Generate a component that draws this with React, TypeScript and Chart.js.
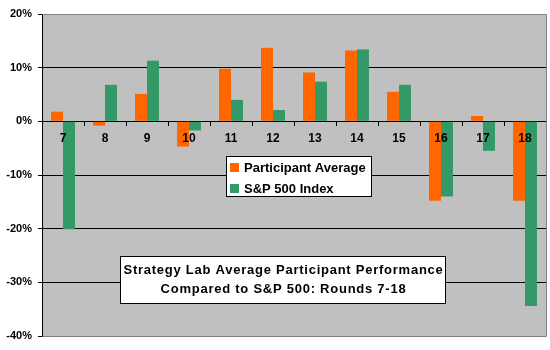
import React, { useEffect, useRef } from "react";
import { Chart, registerables } from "chart.js";

Chart.register(...registerables);

const rounds = ["7", "8", "9", "10", "11", "12", "13", "14", "15", "16", "17", "18"];
const participantAverage = [1.8, -0.8, 5.1, -4.7, 9.8, 13.7, 9.1, 13.2, 5.5, -14.8, 1.0, -14.8];
const sp500Index = [-20.1, 6.8, 11.3, -1.7, 4.0, 2.1, 7.4, 13.4, 6.8, -14.0, -5.5, -34.4];
const seriesNames = ["Participant Average", "S&P 500 Index"];
const seriesColors = ["#FF6600", "#339966"];
const titleLines = ["Strategy Lab Average Participant Performance", "Compared to S&P 500: Rounds 7-18"];

const FONT = "'Liberation Sans', Arial, sans-serif";

const decorPlugin = {
  id: "decor",
  beforeDraw(chart: any) {
    const { ctx, chartArea } = chart;
    ctx.save();
    ctx.fillStyle = "#C0C0C0";
    ctx.fillRect(chartArea.left, chartArea.top, chartArea.right - chartArea.left, chartArea.bottom - chartArea.top);
    ctx.restore();
  },
  afterDraw(chart: any) {
    const { ctx, chartArea } = chart;
    ctx.save();
    // plot border (top, right, bottom gray)
    ctx.strokeStyle = "#808080";
    ctx.lineWidth = 1;
    ctx.beginPath();
    ctx.moveTo(Math.round(chartArea.left) + 0.5, Math.round(chartArea.top) + 0.5);
    ctx.lineTo(Math.round(chartArea.right) + 0.5, Math.round(chartArea.top) + 0.5);
    ctx.lineTo(Math.round(chartArea.right) + 0.5, Math.round(chartArea.bottom) + 0.5);
    ctx.lineTo(Math.round(chartArea.left) + 0.5, Math.round(chartArea.bottom) + 0.5);
    ctx.stroke();

    // legend box
    const lx = 226.5, ly = 156.5, lw = 145, lh = 40;
    ctx.fillStyle = "#FFFFFF";
    ctx.fillRect(lx, ly, lw, lh);
    ctx.strokeStyle = "#000000";
    ctx.strokeRect(lx, ly, lw, lh);
    ctx.font = `bold 13px ${FONT}`;
    ctx.textBaseline = "middle";
    ctx.textAlign = "left";
    const rowY = [167.5, 188.5];
    seriesNames.forEach((name, i) => {
      ctx.fillStyle = seriesColors[i];
      ctx.fillRect(230, rowY[i] - 4.5, 9, 9);
      ctx.fillStyle = "#000000";
      ctx.fillText(name, 244, rowY[i] + 0.5);
    });

    // title box
    const tx = 120.5, ty = 256.5, tw = 325, th = 47;
    ctx.fillStyle = "#FFFFFF";
    ctx.fillRect(tx, ty, tw, th);
    ctx.strokeStyle = "#000000";
    ctx.strokeRect(tx, ty, tw, th);
    ctx.fillStyle = "#000000";
    ctx.font = `bold 13px ${FONT}`;
    (ctx as any).letterSpacing = "0.75px";
    ctx.textAlign = "center";
    titleLines.forEach((line, i) => {
      ctx.fillText(line, tx + tw / 2 + 0.5, 270 + i * 19);
    });
    ctx.restore();
  },
};

export default function App() {
  const canvasRef = useRef<HTMLCanvasElement | null>(null);

  useEffect(() => {
    document.body.style.margin = "0";
    const canvas = canvasRef.current;
    if (!canvas) return;
    const chart = new Chart(canvas, {
      type: "bar",
      data: {
        labels: rounds,
        datasets: [
          {
            label: seriesNames[0],
            data: participantAverage,
            backgroundColor: seriesColors[0],
            borderWidth: 0,
            categoryPercentage: 0.57,
            barPercentage: 1.0,
          },
          {
            label: seriesNames[1],
            data: sp500Index,
            backgroundColor: seriesColors[1],
            borderWidth: 0,
            categoryPercentage: 0.57,
            barPercentage: 1.0,
          },
        ],
      },
      options: {
        animation: false,
        responsive: false,
        maintainAspectRatio: false,
        layout: { padding: { left: 0, right: 4, top: 14, bottom: 14 } },
        plugins: {
          legend: { display: false },
          title: { display: false },
          tooltip: { enabled: false },
        },
        scales: {
          y: {
            position: "left",
            min: -40,
            max: 20,
            afterFit: (scale: any) => {
              scale.width = 42;
            },
            ticks: {
              stepSize: 10,
              padding: 6,
              color: "#000000",
              font: { family: FONT, size: 11, weight: "bold" },
              callback: (v: any) => `${v}%`,
            },
            grid: {
              color: (c: any) => (c.tick && (c.tick.value === 20 || c.tick.value === -40) ? "rgba(0,0,0,0)" : "#000000"),
              tickColor: "#000000",
              tickLength: 4,
              lineWidth: 1,
            },
            border: { display: true, color: "#000000", width: 1 },
          },
          x: {
            position: { y: 0 } as any,
            ticks: {
              z: 1,
              padding: 5,
              color: "#000000",
              font: { family: FONT, size: 12, weight: "bold" },
            },
            grid: {
              offset: true,
              drawOnChartArea: false,
              drawTicks: true,
              tickLength: 5,
              tickColor: "#000000",
            },
            border: { display: false },
          },
        },
      },
      plugins: [decorPlugin],
    });
    return () => chart.destroy();
  }, []);

  return (
    <div style={{ width: 550, height: 350, background: "#FFFFFF" }}>
      <canvas ref={canvasRef} width={550} height={350} />
    </div>
  );
}
